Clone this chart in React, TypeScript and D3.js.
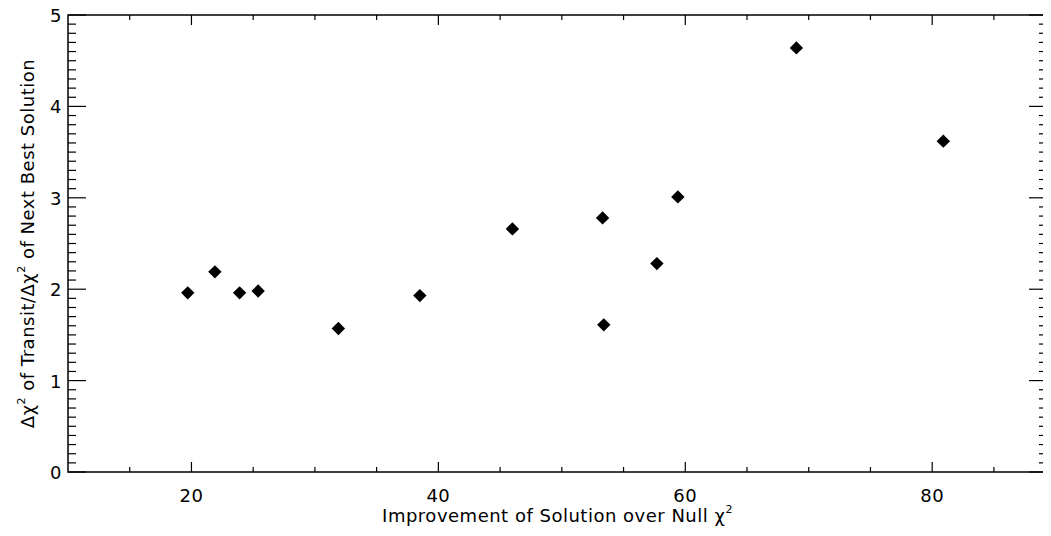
import { useEffect, useRef } from 'react';
import * as d3 from 'd3';

const improvement = [19.7, 21.9, 23.9, 25.4, 31.9, 38.5, 46.0, 53.3, 53.4, 57.7, 59.4, 69.0, 80.9];
const ratio = [1.96, 2.19, 1.96, 1.98, 1.57, 1.93, 2.66, 2.78, 1.61, 2.28, 3.01, 4.64, 3.62];
const xTicks = [20, 40, 60, 80];
const yTicks = [0, 1, 2, 3, 4, 5];

export default function App() {
  const svgRef = useRef<SVGSVGElement>(null);

  useEffect(() => {
    if (!svgRef.current) return;
    const width = 1051, height = 536;
    const margin = { top: 15, right: 4, bottom: 64, left: 68 };
    const svg = d3.select(svgRef.current);
    svg.selectAll('*').remove();

    const x = d3.scaleLinear().domain([10, 89.3]).range([margin.left, width - margin.right]);
    const y = d3.scaleLinear().domain([0, 5]).range([height - margin.bottom, margin.top]);
    const font = '"DejaVu Sans", sans-serif';

    const x0 = x.range()[0], x1 = x.range()[1];
    const y0 = y.range()[0], y1 = y.range()[1];

    // frame
    svg.append('rect')
      .attr('x', x0).attr('y', y1).attr('width', x1 - x0).attr('height', y0 - y1)
      .attr('fill', 'none').attr('stroke', '#000').attr('stroke-width', 1.5);

    const ticks = svg.append('g').attr('stroke', '#000').attr('stroke-width', 1.2);
    d3.range(15, 89.3, 5).forEach(v => {
      const len = v % 20 === 0 ? 10 : 5;
      ticks.append('line').attr('x1', x(v)).attr('x2', x(v)).attr('y1', y0).attr('y2', y0 - len);
      ticks.append('line').attr('x1', x(v)).attr('x2', x(v)).attr('y1', y1).attr('y2', y1 + len);
    });
    d3.range(0, 51).map(i => i / 10).forEach(v => {
      const len = Math.abs(v - Math.round(v)) < 1e-6 ? 18 : 8;
      ticks.append('line').attr('x1', x0).attr('x2', x0 + len).attr('y1', y(v)).attr('y2', y(v));
      ticks.append('line').attr('x1', x1).attr('x2', x1 - len).attr('y1', y(v)).attr('y2', y(v));
    });

    const lbl = (s: d3.Selection<SVGTextElement, any, any, any>) =>
      s.attr('font-family', font).attr('font-size', 18).attr('fill', '#000').attr('letter-spacing', 0.5);

    svg.append('g').selectAll('text').data(xTicks).join('text')
      .attr('x', d => x(d)).attr('y', y0 + 30)
      .attr('text-anchor', 'middle').call(lbl as any)
      .text(d => d);
    svg.append('g').selectAll('text').data(yTicks).join('text')
      .attr('x', x0 - 6).attr('y', d => y(d) + 7)
      .attr('text-anchor', 'end').call(lbl as any)
      .text(d => d);

    const xt = svg.append('text')
      .attr('x', (x0 + x1) / 2).attr('y', 522)
      .attr('text-anchor', 'middle').call(lbl as any);
    xt.append('tspan').text('Improvement of Solution over Null χ');
    xt.append('tspan').attr('font-size', 11).attr('dy', -9).text('2');

    const yt = svg.append('text')
      .attr('transform', `translate(34,${(y0 + y1) / 2}) rotate(-90)`)
      .attr('text-anchor', 'middle').call(lbl as any);
    yt.append('tspan').text('Δχ');
    yt.append('tspan').attr('font-size', 11).attr('dy', -9).text('2');
    yt.append('tspan').attr('dy', 9).text(' of Transit/Δχ');
    yt.append('tspan').attr('font-size', 11).attr('dy', -9).text('2');
    yt.append('tspan').attr('dy', 9).text(' of Next Best Solution');

    const diamond = d3.symbol().type(d3.symbolSquare).size(90);
    svg.append('g').selectAll('path').data(improvement).join('path')
      .attr('d', diamond)
      .attr('transform', (d, i) => `translate(${x(d)},${y(ratio[i])}) rotate(45)`)
      .attr('fill', '#000');
  }, []);

  return <svg ref={svgRef} width={1051} height={536} style={{ display: 'block', margin: -8 }} />;
}
